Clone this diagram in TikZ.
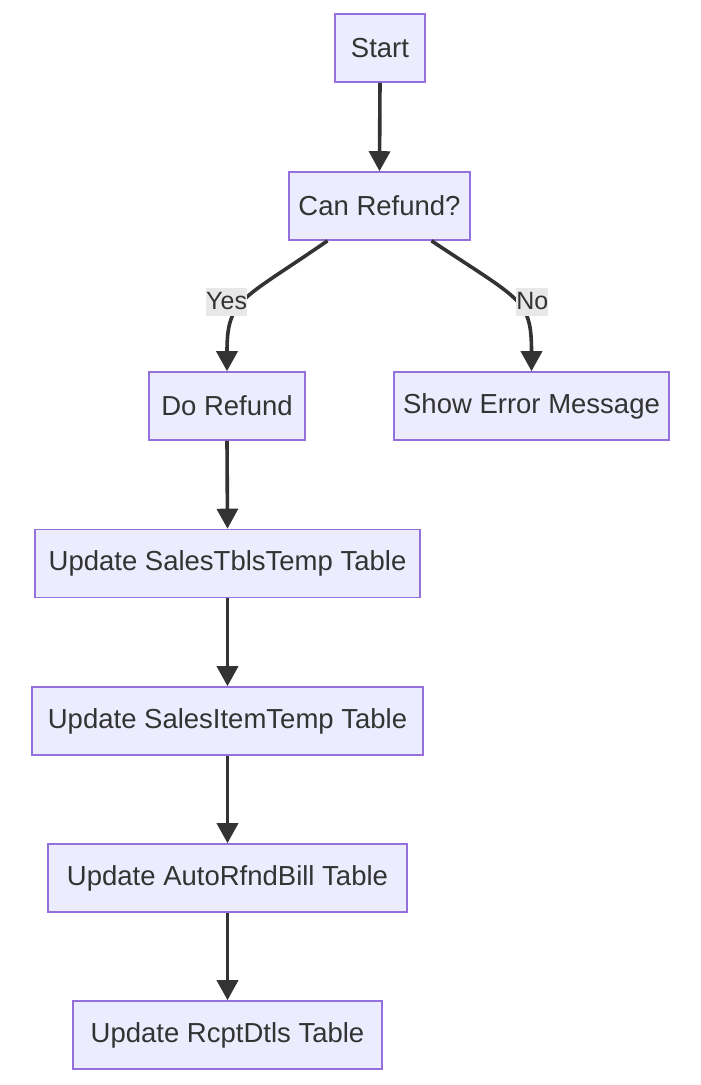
\documentclass[tikz,border=0pt]{standalone}
\usepackage{fontspec}
\setmainfont{Liberation Sans}
\usetikzlibrary{arrows.meta,positioning}
\definecolor{nodefill}{HTML}{ECECFF}
\definecolor{nodeline}{HTML}{9370DB}
\definecolor{ink}{HTML}{333333}
\definecolor{labelbg}{HTML}{E8E8E8}
\tikzset{
  block/.style={draw=nodeline, fill=nodefill, line width=1.6pt, minimum height=68pt,
                inner sep=0pt, text=ink, font=\fontsize{27.5}{32}\selectfont},
  arrow/.style={-{Triangle[length=20pt,width=21pt]}, line width=3.6pt, draw=ink},
  edgelabel/.style={fill=labelbg, text=ink, inner sep=0pt, minimum height=28pt,
                    font=\fontsize{25}{28}\selectfont}
}
\begin{document}
\begin{tikzpicture}[x=1pt,y=-1pt]
  \useasboundingbox (0,0) rectangle (701,1085);
  \node[block,minimum width=90pt] (start) at (380,48) {Start};
  \node[block,minimum width=181pt] (can) at (379.5,206) {Can Refund?};
  \node[block,minimum width=156pt] (dorefund) at (227,406) {Do Refund};
  \node[block,minimum width=275pt] (errmsg) at (531.5,406) {Show Error Message};
  \node[block,minimum width=385pt] (salestbls) at (227.5,563.5) {Update SalesTblsTemp Table};
  \node[block,minimum width=391pt] (salesitem) at (227.5,721) {Update SalesItemTemp Table};
  \node[block,minimum width=359pt] (autorfnd) at (227.5,878) {Update AutoRfndBill Table};
  \node[block,minimum width=309pt] (rcptdtls) at (227.5,1035) {Update RcptDtls Table};
  \draw[arrow] (start.south) -- (can.north);
  \draw[arrow] ([xshift=-52pt]can.south) .. controls +(-87,60) and +(0,-72) ..
    node[edgelabel,pos=0.5,xshift=-18pt] {Yes} (dorefund.north);
  \draw[arrow] ([xshift=52pt]can.south) .. controls +(90,60) and +(0,-72) ..
    node[edgelabel,pos=0.5,xshift=17pt] {No} (errmsg.north);
  \draw[arrow] (dorefund.south) -- (salestbls.north);
  \draw[arrow] (salestbls.south) -- (salesitem.north);
  \draw[arrow] (salesitem.south) -- (autorfnd.north);
  \draw[arrow] (autorfnd.south) -- (rcptdtls.north);
\end{tikzpicture}
\end{document}
